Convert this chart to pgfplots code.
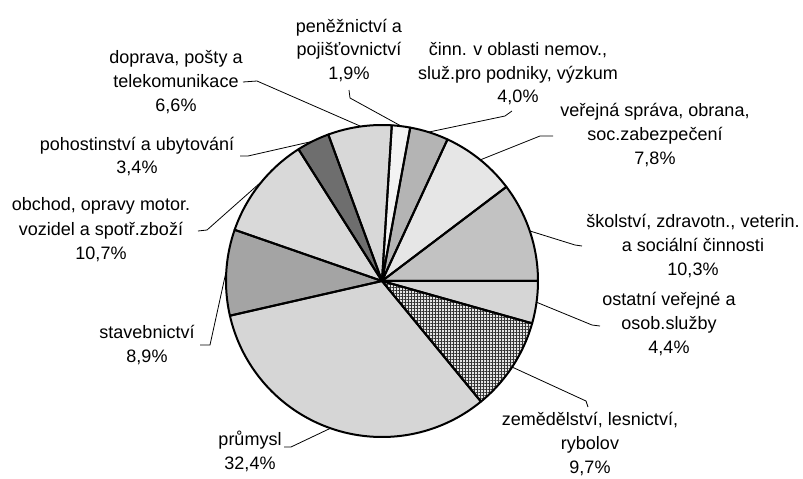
\documentclass[border=0pt]{standalone}
\usepackage{fontspec}
\setmainfont{Liberation Sans}
\usepackage{pgfplots}
\pgfplotsset{compat=1.18}
\usetikzlibrary{patterns.meta}
\definecolor{cA}{HTML}{F3F3F3}
\definecolor{cB}{HTML}{B4B4B4}
\definecolor{cC}{HTML}{E6E6E6}
\definecolor{cD}{HTML}{C2C2C2}
\definecolor{cE}{HTML}{D6D6D6}
\definecolor{cF}{HTML}{E4E4E4}
\definecolor{cG}{HTML}{D6D6D6}
\definecolor{cH}{HTML}{A4A4A4}
\definecolor{cI}{HTML}{D9D9D9}
\definecolor{cJ}{HTML}{6E6E6E}
\definecolor{cK}{HTML}{D8D8D8}
% pie geometry (in px of the reference): centre, radius, start angle
\def\cx{382}\def\cy{281}\def\rr{156}\def\st{86.4}
\pgfmathsetmacro\kk{360/100.1}
% cumulative shares (%) clockwise from the start angle
\newcommand\slice[3]{%
  \pgfmathsetmacro\aA{\st-#2*\kk}\pgfmathsetmacro\aB{\st-#1*\kk}%
  \addplot[#3, mark=none, domain=\aA:\aB, samples=80, variable=\t]
    ({\cx+\rr*cos(\t)},{\cy-\rr*sin(\t)}) -- (axis cs:\cx,\cy) -- cycle;}
\newcommand\lbl[3]{\node[anchor=base, inner sep=0pt] at (axis cs:#1,#2) {#3};}
\begin{document}
\begin{tikzpicture}[font=\fontsize{18bp}{24bp}\selectfont]
\path[use as bounding box] (0,0) rectangle (803bp,479bp);
\begin{axis}[at={(0,0)}, anchor=south west, scale only axis,
  x=1bp, y=1bp, xmin=0, xmax=803, ymin=0, ymax=479, y dir=reverse,
  hide axis, clip=false]
% shares: 1.9 4.0 7.8 10.3 4.4 9.7 32.4 8.9 10.7 3.4 6.6
\slice{0}{1.9}{fill=cA}
\slice{1.9}{5.9}{fill=cB}
\slice{5.9}{13.7}{fill=cC}
\slice{13.7}{24.0}{fill=cD}
\slice{24.0}{28.4}{fill=cE}
\slice{28.4}{38.1}{fill=cF}
\slice{28.4}{38.1}{pattern={Hatch[angle=0,distance=3bp,line width=0.9bp]}, pattern color=black!80}
\slice{38.1}{70.5}{fill=cG}
\slice{70.5}{79.4}{fill=cH}
\slice{79.4}{90.1}{fill=cI}
\slice{90.1}{93.5}{fill=cJ}
\slice{93.5}{100.1}{fill=cK}
% borders
\slice{0}{1.9}{draw=black, line width=2bp, line join=round}
\slice{1.9}{5.9}{draw=black, line width=2bp, line join=round}
\slice{5.9}{13.7}{draw=black, line width=2bp, line join=round}
\slice{13.7}{24.0}{draw=black, line width=2bp, line join=round}
\slice{24.0}{28.4}{draw=black, line width=2bp, line join=round}
\slice{28.4}{38.1}{draw=black, line width=2bp, line join=round}
\slice{38.1}{70.5}{draw=black, line width=2bp, line join=round}
\slice{70.5}{79.4}{draw=black, line width=2bp, line join=round}
\slice{79.4}{90.1}{draw=black, line width=2bp, line join=round}
\slice{90.1}{93.5}{draw=black, line width=2bp, line join=round}
\slice{93.5}{100.1}{draw=black, line width=2bp, line join=round}
% leader lines
\draw[line width=0.8bp] (axis cs:349,90) -- (axis cs:350,98) -- (axis cs:401,126);
\draw[line width=0.8bp] (axis cs:512,111) -- (axis cs:505,116) -- (axis cs:429,132);
\draw[line width=0.8bp] (axis cs:553,136) -- (axis cs:540,136) -- (axis cs:480,160);
\draw[line width=0.8bp] (axis cs:582,246) -- (axis cs:575,245) -- (axis cs:530,231);
\draw[line width=0.8bp] (axis cs:600,326) -- (axis cs:592,325) -- (axis cs:536,302);
\draw[line width=0.8bp] (axis cs:588,407) -- (axis cs:586,401) -- (axis cs:512,367);
\draw[line width=0.8bp] (axis cs:284,447) -- (axis cs:291,447) -- (axis cs:331,428);
\draw[line width=0.8bp] (axis cs:200,345) -- (axis cs:210,345) -- (axis cs:226,272);
\draw[line width=0.8bp] (axis cs:198,231) -- (axis cs:207,230) -- (axis cs:260,183);
\draw[line width=0.8bp] (axis cs:240,156) -- (axis cs:248,156) -- (axis cs:314,141);
\draw[line width=0.8bp] (axis cs:243,82) -- (axis cs:257,81) -- (axis cs:360,126);
% labels
\lbl{349}{32}{peněžnictví a}
\lbl{349}{55}{pojišťovnictví}
\lbl{349}{79}{1,9\%}
\lbl{518}{55}{činn. v oblasti nemov.,}
\lbl{518}{79}{služ.pro podniky, výzkum}
\lbl{518}{102}{4,0\%}
\lbl{655}{116}{veřejná správa, obrana,}
\lbl{655}{140}{soc.zabezpečení}
\lbl{655}{164}{7,8\%}
\lbl{693}{227}{školství, zdravotn., veterin.}
\lbl{693}{251}{a sociální činnosti}
\lbl{693}{275}{10,3\%}
\lbl{669}{305}{ostatní veřejné a}
\lbl{669}{329}{osob.služby}
\lbl{669}{353}{4,4\%}
\lbl{590}{425}{zemědělství, lesnictví,}
\lbl{590}{449}{rybolov}
\lbl{590}{473}{9,7\%}
\lbl{250}{445}{průmysl}
\lbl{250}{469}{32,4\%}
\lbl{147}{338}{stavebnictví}
\lbl{147}{362}{8,9\%}
\lbl{101}{210}{obchod, opravy motor.}
\lbl{101}{235}{vozidel a spotř.zboží}
\lbl{101}{259}{10,7\%}
\lbl{137}{150}{pohostinství a ubytování}
\lbl{137}{173}{3,4\%}
\lbl{176}{63}{doprava, pošty a}
\lbl{176}{87}{telekomunikace}
\lbl{176}{111}{6,6\%}
\end{axis}
\end{tikzpicture}
\end{document}
